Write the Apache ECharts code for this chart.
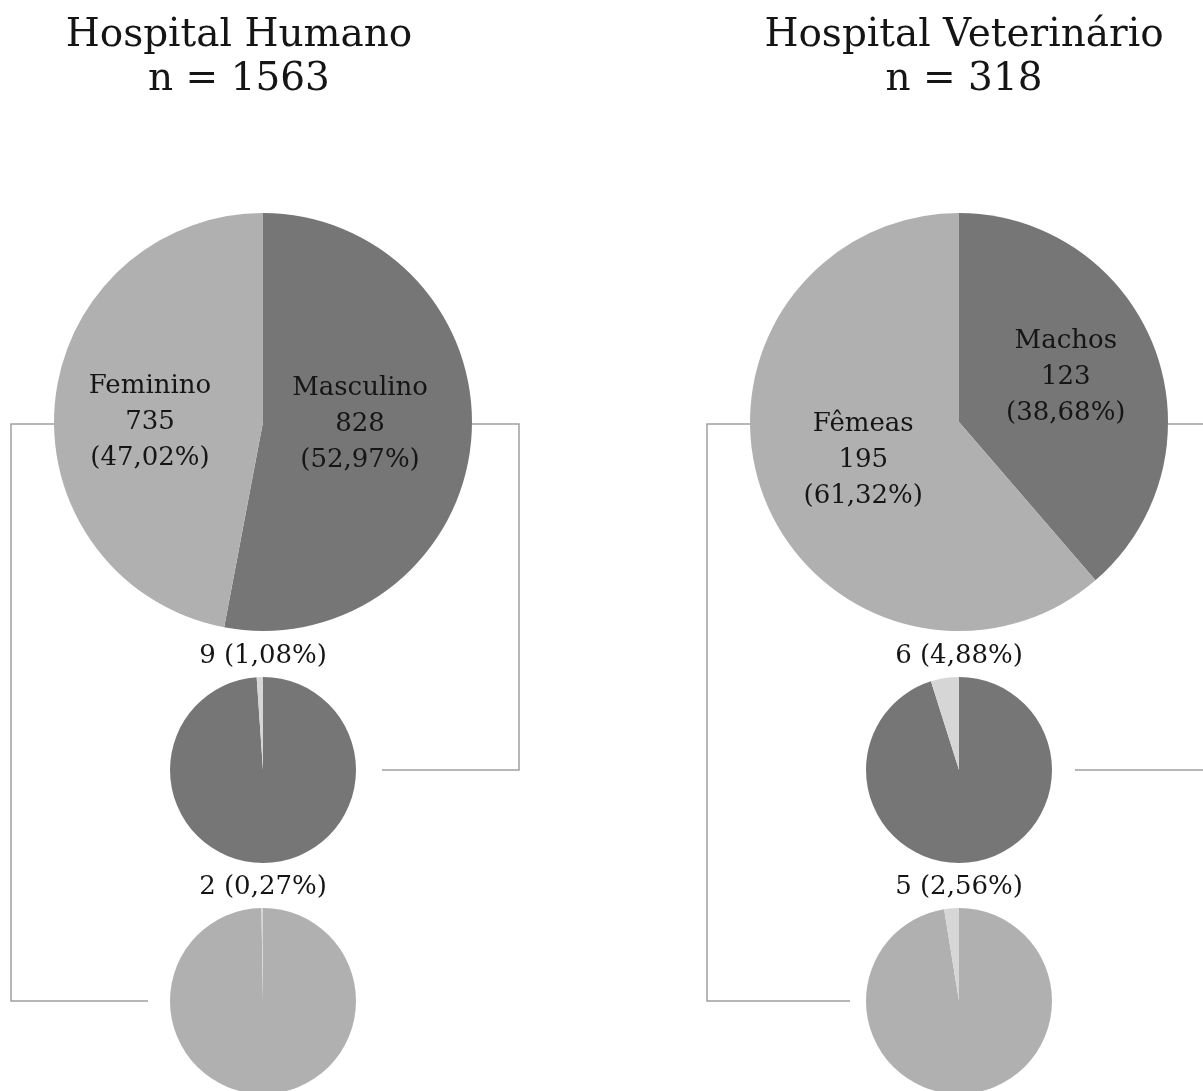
<!DOCTYPE html>
<html>
<head>
<meta charset="utf-8">
<title>Hospital Humano / Hospital Veterinário</title>
<script src="https://cdn.jsdelivr.net/npm/echarts@6/dist/echarts.min.js"></script>
<style>
  html, body { margin: 0; padding: 0; background: #ffffff; }
  #chart { width: 1203px; height: 1091px; }
</style>
</head>
<body>
<div id="chart"></div>
<script>
// Hospital Humano: sexo dos pacientes
const humanTitle = 'Hospital Humano';
const humanN = 1563;
const humanSexes = ['Masculino', 'Feminino'];
const humanCounts = [828, 735];
const humanPct = ['52,97', '47,02'];
const humanSubCounts = [9, 2];
const humanSubPct = ['1,08', '0,27'];

// Hospital Veterinário: sexo dos animais
const vetTitle = 'Hospital Veterinário';
const vetN = 318;
const vetSexes = ['Machos', 'Fêmeas'];
const vetCounts = [123, 195];
const vetPct = ['38,68', '61,32'];
const vetSubCounts = [6, 5];
const vetSubPct = ['4,88', '2,56'];

// Palette and typography
const DARK = '#767676';
const LIGHT = '#b0b0b0';
const SLIVER = '#d6d6d6';
const LINE = '#a0a0a0';
const INK = '#151515';
const FONT = '"DejaVu Serif", "Liberation Serif", serif';

// Layout (pixels)
const BIG_R = 209, SMALL_R = 93;
const ROW_BIG = 422, ROW_MALE = 770, ROW_FEMALE = 1001;
const panels = [
  {
    cx: 263, titleX: 239, title: humanTitle, n: humanN,
    sexes: humanSexes, counts: humanCounts, pct: humanPct,
    subCounts: humanSubCounts, subPct: humanSubPct,
    labelShift: [[-10, -8], [-6, 10]],
    leftX: 11, rightX: 519, maleGap: 26, femaleGap: 22,
    maleIdx: 0, femaleIdx: 1
  },
  {
    cx: 959, titleX: 964, title: vetTitle, n: vetN,
    sexes: vetSexes, counts: vetCounts, pct: vetPct,
    subCounts: vetSubCounts, subPct: vetSubPct,
    labelShift: [[6, -7], [5, 1]],
    leftX: 707, rightX: 1214, maleGap: 23, femaleGap: 16,
    maleIdx: 0, femaleIdx: 1
  }
];

const series = [];
const graphic = [];

panels.forEach(function (p) {
  const colors = [DARK, LIGHT];
  // main pie: first slice (male) starts at 12 o'clock, clockwise
  series.push({
    type: 'pie',
    center: [p.cx, ROW_BIG],
    radius: [0, BIG_R],
    startAngle: 90,
    clockwise: true,
    silent: true,
    animation: false,
    itemStyle: { borderWidth: 0 },
    data: p.sexes.map(function (s, i) {
      return { name: s, value: p.counts[i], itemStyle: { color: colors[i] } };
    }),
    label: {
      show: true,
      position: 'inside',
      fontFamily: FONT,
      fontSize: 26,
      lineHeight: 36,
      color: INK,
      formatter: function (d) {
        return d.name + '\n' + d.value + '\n(' + p.pct[d.dataIndex] + '%)';
      }
    },
    labelLine: { show: false },
    labelLayout: function (params) {
      const s = p.labelShift[params.dataIndex];
      return { dx: s[0], dy: s[1] };
    }
  });

  // breakdown pies: remainder first, highlighted part as the last slice
  [[p.maleIdx, ROW_MALE], [p.femaleIdx, ROW_FEMALE]].forEach(function (pair, k) {
    const idx = pair[0], row = pair[1];
    const sub = p.subCounts[k];
    series.push({
      type: 'pie',
      center: [p.cx, row],
      radius: [0, SMALL_R],
      startAngle: 90,
      clockwise: true,
      silent: true,
      animation: false,
      itemStyle: { borderWidth: 0 },
      label: { show: false },
      labelLine: { show: false },
      data: [
        { name: p.sexes[idx], value: p.counts[idx] - sub, itemStyle: { color: colors[idx] } },
        { name: p.sexes[idx] + ' (parcial)', value: sub, itemStyle: { color: SLIVER } }
      ]
    });
    graphic.push({
      type: 'text',
      x: p.cx,
      y: row - SMALL_R - 21,
      z: 10,
      style: {
        text: sub + ' (' + p.subPct[k] + '%)',
        font: '26px ' + FONT,
        fill: INK,
        textAlign: 'center',
        textVerticalAlign: 'middle'
      }
    });
  });

  // heading
  graphic.push({
    type: 'text',
    x: p.titleX,
    y: 14,
    z: 10,
    style: {
      text: p.title + '\nn = ' + p.n,
      font: '39px ' + FONT,
      lineHeight: 44,
      fill: INK,
      textAlign: 'center',
      textVerticalAlign: 'top'
    }
  });

  // connectors from each half of the main pie to its breakdown pie
  const lineStyle = { stroke: LINE, lineWidth: 1.5, fill: null };
  graphic.push({
    type: 'polyline',
    z: -1,
    shape: { points: [[p.cx - BIG_R, ROW_BIG + 2], [p.leftX, ROW_BIG + 2], [p.leftX, ROW_FEMALE], [p.cx - SMALL_R - p.femaleGap, ROW_FEMALE]] },
    style: lineStyle
  });
  graphic.push({
    type: 'polyline',
    z: -1,
    shape: { points: [[p.cx + BIG_R, ROW_BIG + 2], [p.rightX, ROW_BIG + 2], [p.rightX, ROW_MALE], [p.cx + SMALL_R + p.maleGap, ROW_MALE]] },
    style: lineStyle
  });
});

const chart = echarts.init(document.getElementById('chart'), null, { renderer: 'canvas' });
chart.setOption({
  backgroundColor: '#ffffff',
  animation: false,
  series: series,
  graphic: graphic
});
</script>
</body>
</html>
